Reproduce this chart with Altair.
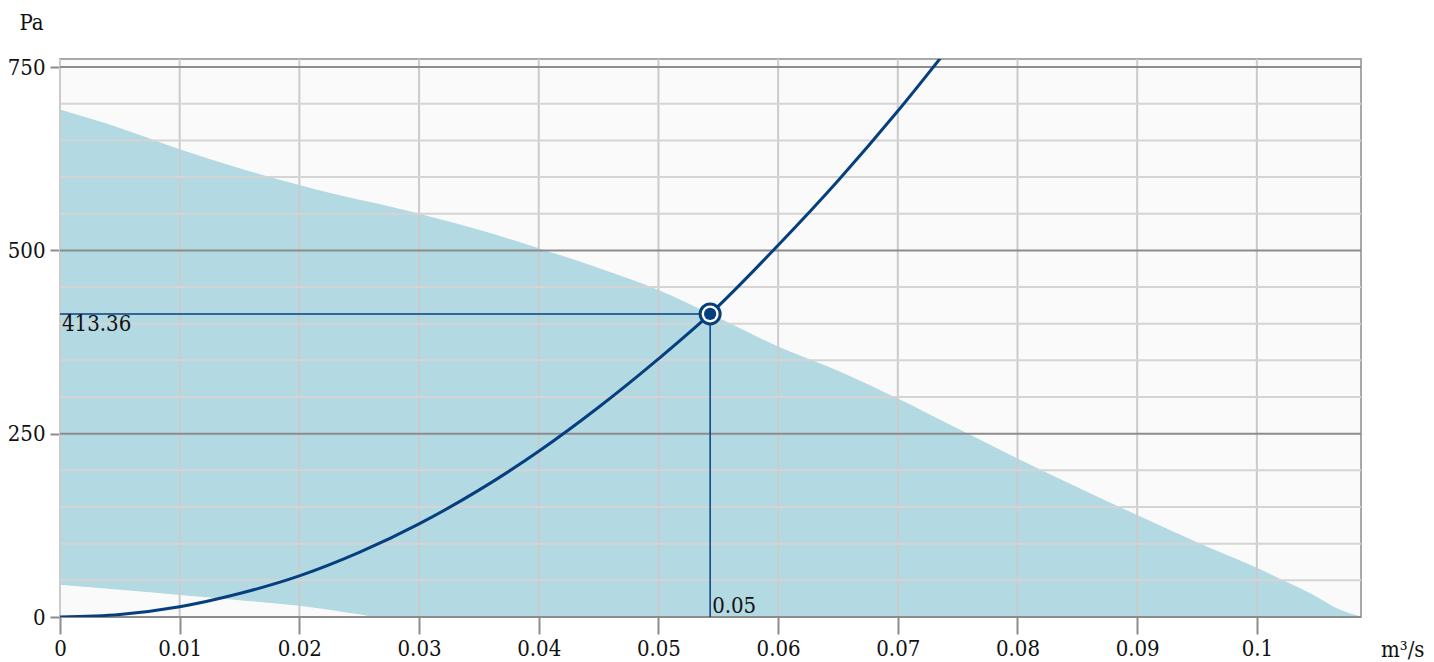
import altair as alt
import pandas as pd

# ---- data ----
# fan working range (upper / lower pressure boundary)
band_q = [0.0, 0.005, 0.01, 0.015, 0.02, 0.025, 0.0265, 0.03, 0.035, 0.04, 0.045,
          0.05, 0.055, 0.06, 0.065, 0.07, 0.075, 0.08, 0.085, 0.09, 0.095, 0.1,
          0.1022, 0.1045, 0.107, 0.1086]
band_hi = [692, 667, 638, 612, 589, 569, 564, 550, 528, 503, 476,
           446, 408, 369, 336, 298, 257, 216, 177, 139, 102, 67,
           50, 32, 9.5, 1]
band_lo = [44, 37, 30, 23, 15.4, 3.6, 0, 0, 0, 0, 0,
           0, 0, 0, 0, 0, 0, 0, 0, 0, 0, 0,
           0, 0, 0, 0]

# system curve
sys_q = [0.0, 0.005, 0.01, 0.015, 0.02, 0.025, 0.03, 0.035, 0.04, 0.045, 0.05,
         0.05432, 0.06, 0.065, 0.07, 0.075]
sys_p = [0, 3.5, 14, 32, 56, 88, 127, 173, 226, 286, 352,
         413.36, 507, 595, 690, 792]

# operating point
op_q = 0.05432
op_p = 413.36

x_ticks = [0, 0.01, 0.02, 0.03, 0.04, 0.05, 0.06, 0.07, 0.08, 0.09, 0.1]
y_minor = [50, 100, 150, 200, 300, 350, 400, 450, 550, 600, 650, 700]
y_major = [0, 250, 500, 750]

FONT = "DejaVu Serif Condensed, DejaVu Serif, serif"
LINE = "#063f7e"
AREA = "#b3d9e3"

xs = alt.Scale(domain=[0, 0.1087], nice=False, zero=False)
ys = alt.Scale(domain=[0, 761], nice=False, zero=False)

xaxis = alt.Axis(values=x_ticks, format="~g", title="m³/s", grid=False, domain=False,
                 tickColor="#8c8c8c", tickWidth=2, tickSize=17,
                 labelFont=FONT, labelFontSize=22, labelColor="#111111",
                 labelPadding=4, labelFlush=False, labelOverlap=False,
                 titleFont=FONT, titleFontSize=22, titleFontWeight="normal",
                 titleColor="#111111", titleX=1364, titleY=39,
                 titleAlign="right", titleBaseline="alphabetic")
yaxis = alt.Axis(values=y_major, format="d", title="Pa", grid=False, domain=False,
                 tickColor="#8c8c8c", tickWidth=2, tickSize=10,
                 labelFont=FONT, labelFontSize=22, labelColor="#111111",
                 labelPadding=5, labelFlush=False, labelOverlap=False,
                 titleFont=FONT, titleFontSize=22, titleFontWeight="normal",
                 titleColor="#111111", titleAngle=0, titleX=-41, titleY=-30,
                 titleAlign="left", titleBaseline="alphabetic")


def X(field="q"):
    return alt.X(f"{field}:Q", scale=xs, axis=xaxis)


def Y(field="p"):
    return alt.Y(f"{field}:Q", scale=ys, axis=yaxis)


band_df = pd.DataFrame({"q": band_q, "p": band_hi, "lo": band_lo})
sys_df = pd.DataFrame({"q": sys_q, "p": sys_p})
op_df = pd.DataFrame({"q": [op_q], "p": [op_p], "zero": [0.0],
                      "plabel": [f"{op_p:.2f}"], "qlabel": [f"{op_q:.2f}"]})

area = alt.Chart(band_df).mark_area(color=AREA, interpolate="monotone").encode(
    x=X(), y=Y(), y2="lo:Q")

vgrid = alt.Chart(pd.DataFrame({"q": x_ticks})).mark_rule(
    color="#cbcbcb", strokeWidth=2).encode(x=X())
hgrid = alt.Chart(pd.DataFrame({"p": y_minor})).mark_rule(
    color="#d4d4d4", strokeWidth=2).encode(y=Y())
hmajor = alt.Chart(pd.DataFrame({"p": y_major})).mark_rule(
    color="#8c8c8c", strokeWidth=2).encode(y=Y())

curve = alt.Chart(sys_df).mark_line(color=LINE, strokeWidth=3,
                                    interpolate="monotone", clip=True).encode(
    x=X(), y=Y())

hguide = alt.Chart(op_df).mark_rule(color=LINE, strokeWidth=1.5).encode(
    x=alt.X("zero:Q", scale=xs, axis=xaxis), x2="q:Q", y=Y())
vguide = alt.Chart(op_df).mark_rule(color=LINE, strokeWidth=1.5).encode(
    x=X(), y=alt.Y("zero:Q", scale=ys, axis=yaxis), y2="p:Q")

ring = alt.Chart(op_df).mark_point(shape="circle", size=400, filled=False,
                                   fill="white", fillOpacity=1, stroke=LINE,
                                   strokeWidth=3, opacity=1).encode(x=X(), y=Y())
dot = alt.Chart(op_df).mark_point(shape="circle", size=150, filled=True,
                                  color=LINE, opacity=1).encode(x=X(), y=Y())

plabel = alt.Chart(op_df).mark_text(align="left", baseline="top", dx=2, dy=0,
                                    font=FONT, fontSize=22, color="#111111").encode(
    x=alt.X("zero:Q", scale=xs, axis=xaxis), y=Y(), text="plabel:N")
qlabel = alt.Chart(op_df).mark_text(align="left", baseline="alphabetic", dx=2, dy=-4,
                                    font=FONT, fontSize=22, color="#111111").encode(
    x=X(), y=alt.Y("zero:Q", scale=ys, axis=yaxis), text="qlabel:N")

chart = alt.layer(area, vgrid, hgrid, hmajor, curve, hguide, vguide, ring, dot,
                  plabel, qlabel).properties(
    width=1301, height=558,
    padding={"left": 52, "top": 51, "right": 65, "bottom": 45},
    autosize=alt.AutoSizeParams(type="none"),
    background="white",
).configure_view(fill="#fafafa", stroke="#a8a8a8", strokeWidth=2)

chart.save("out.html", embed_options={"renderer": "svg", "actions": False})
